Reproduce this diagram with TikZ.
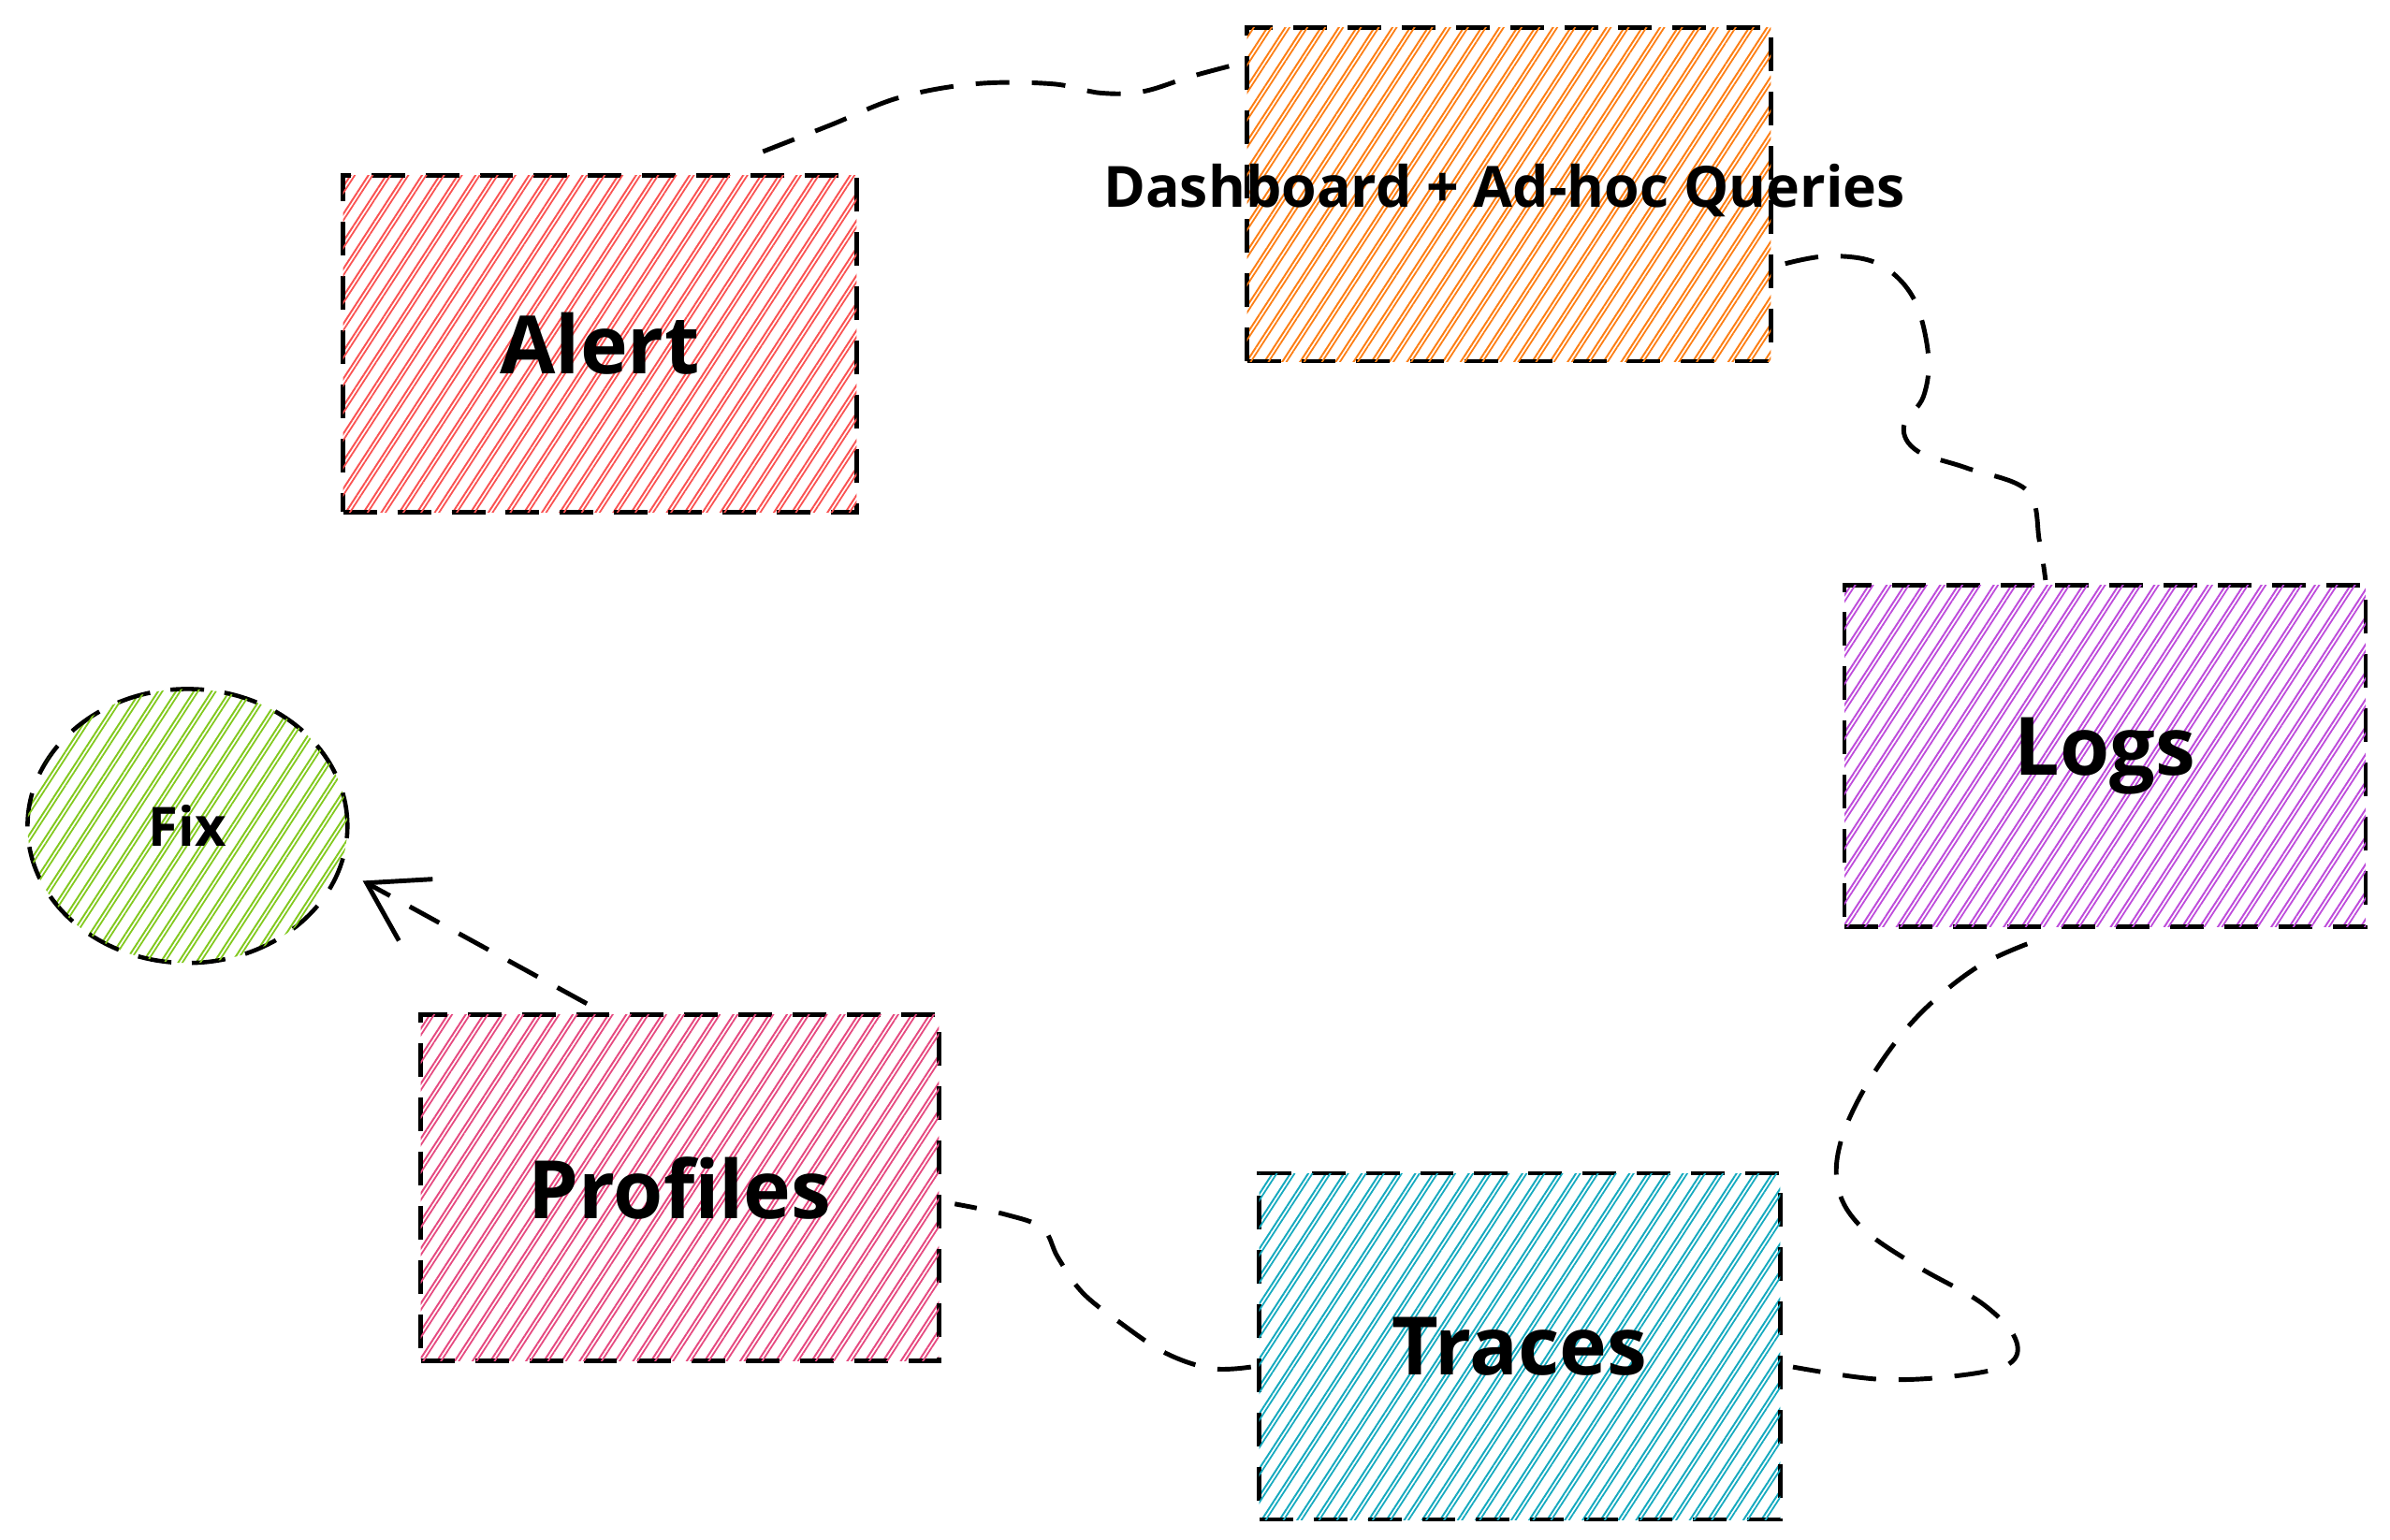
\documentclass[tikz,border=0pt]{standalone}
\usepackage{fontspec}
\setmainfont{Open Sans}
\usetikzlibrary{patterns.meta,calc,arrows.meta,shapes.geometric}
\definecolor{cred}{HTML}{FA5252}
\definecolor{corange}{HTML}{FD7E14}
\definecolor{cpurple}{HTML}{BE4BDB}
\definecolor{ccyan}{HTML}{15AABF}
\definecolor{cpink}{HTML}{E64980}
\definecolor{cgreen}{HTML}{82C91E}
\tikzset{
  hatch/.style={pattern={Lines[angle=57,distance=0.16cm,line width=0.55pt]}, pattern color=#1,
    postaction={pattern={Lines[angle=57,distance=0.16cm,line width=0.5pt,xshift=0.045cm]}, pattern color=#1}},
  outline/.style={draw=black, line width=1.3pt, dash pattern=on 0.36cm off 0.22cm},
  box/.style={rectangle, outline, minimum width=5.55cm, minimum height=3.65cm, inner sep=0pt,
    font=\bfseries\fontsize{24.5}{30}\selectfont},
  conn/.style={draw=black, line width=1.4pt, dash pattern=on 0.36cm off 0.24cm, line cap=butt},
}
\begin{document}
\begin{tikzpicture}[x=0.01629cm,y=-0.01629cm]
\fill[white] (0,0) rectangle (1568,1010);
\useasboundingbox (0,0) rectangle (1568,1010);

\node[box, hatch=cred, minimum width=5.49cm, minimum height=3.60cm] (alert) at (393.5,225.5) {Alert};
\node[box, hatch=corange, minimum width=5.60cm, minimum height=3.57cm] (dash) at (990,127.5) {};
\node[font=\bfseries\fontsize{17.3}{22}\selectfont] (dashtxt) at (987,125) {Dashboard + Ad-hoc Queries};
\node[box, hatch=cpurple, minimum width=5.57cm, minimum height=3.65cm] (logs) at (1381,496) {Logs};
\node[box, hatch=ccyan, minimum width=5.57cm, minimum height=3.70cm] (traces) at (997,883.5) {Traces};
\node[box, hatch=cpink, minimum width=5.54cm, minimum height=3.70cm] (prof) at (446,779.5) {Profiles};
\node[ellipse, outline, hatch=cgreen, minimum width=3.42cm, minimum height=2.93cm, inner sep=0pt,
  font=\bfseries\fontsize{16.5}{20}\selectfont] (fix) at (123,542) {Fix};

% Alert -> Dashboard
\coordinate (c1s) at ($(alert.north east)+(-62,-15)$);
\coordinate (c1e) at ($(dash.north west)+(-3,25)$);
\draw[conn] plot[smooth,tension=0.6] coordinates {(c1s) (545,82) (590,64) (640,55) (690,55) (722,61) (750,60) (782,50) (c1e)};

% Dashboard -> Logs
\coordinate (c2s) at ($(dash.east)+(8,45.5)$);
\coordinate (c2e) at ($(logs.north)+(-39,-2)$);
\draw[conn] plot[smooth,tension=0.6] coordinates {(c2s) (1200,168) (1232,173) (1255,195) (1265,232) (1262,260) (1249,280) (1258,296) (1290,307) (1330,322) (1338,355) (c2e)};

% Logs -> Traces
\coordinate (c3s) at ($(logs.south)+(-51,10)$);
\coordinate (c3e) at ($(traces.east)+(7,13.5)$);
\draw[conn] plot[smooth,tension=0.6] coordinates {(c3s) (1295,636) (1257,668) (1227,708) (1208,748) (1206,780) (1222,806) (1258,831) (1300,855) (1322,878) (1318,895) (1282,903) (1232,905) (c3e)};

% Traces -> Profiles
\coordinate (c4s) at ($(traces.west)+(-4,13.5)$);
\coordinate (c4e) at ($(prof.east)+(9,10.5)$);
\draw[conn] plot[smooth,tension=0.6] coordinates {(c4s) (795,898) (765,888) (735,868) (710,848) (694,825) (684,806) (660,797) (c4e)};

% Profiles -> Fix
\coordinate (c5s) at ($(prof.north)+(-61,-6)$);
\coordinate (c5e) at ($(fix.center)+(115,36)$);
\draw[conn,-{Straight Barb[length=0.6cm,width=0.75cm]}] (c5s) -- (c5e);
\end{tikzpicture}
\end{document}
